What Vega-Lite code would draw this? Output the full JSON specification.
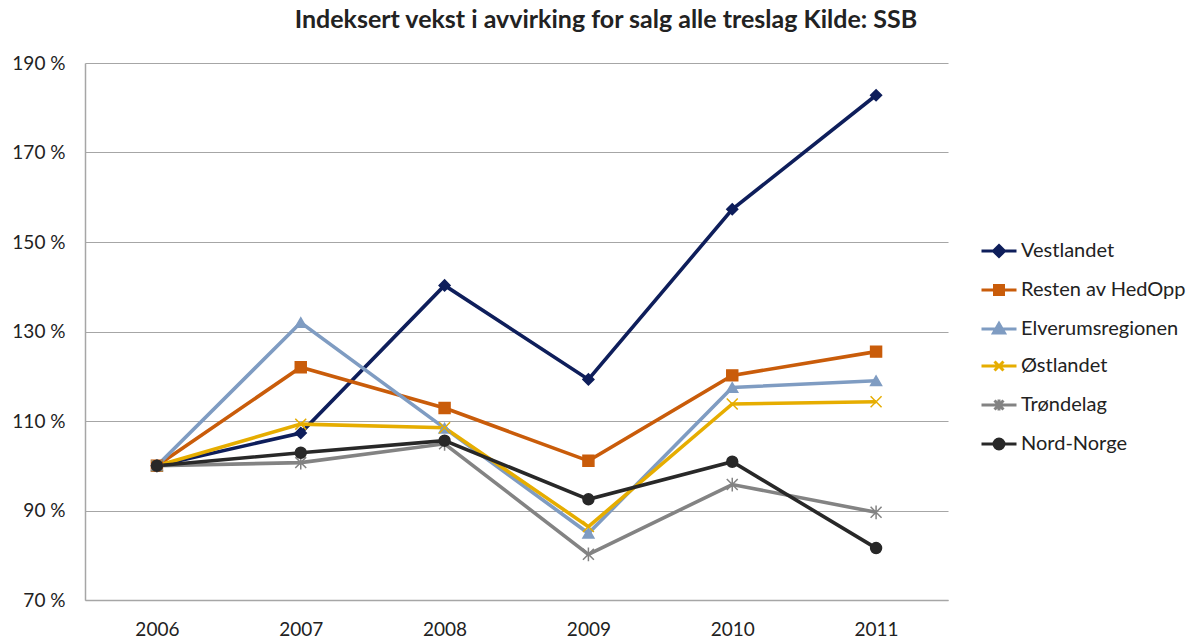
{
  "$schema": "https://vega.github.io/schema/vega-lite/v6.json",
  "autosize": {"type": "none"},
  "padding": {"left": 85, "top": 63, "right": 248, "bottom": 40},
  "width": 863,
  "height": 537,
  "background": "white",
  "config": {
    "view": {"stroke": null},
    "font": "Lato",
    "axis": {"labelFont": "Lato", "labelFontSize": 19, "labelColor": "#222222"},
    "legend": {"labelFont": "Lato", "labelFontSize": 20, "labelColor": "#222222", "labelLimit": 300}
  },
  "title": {
    "text": "Indeksert vekst i avvirking for salg alle treslag Kilde: SSB",
    "font": "Lato",
    "fontSize": 25,
    "fontWeight": "bold",
    "color": "#222222",
    "anchor": "middle",
    "frame": "bounds",
    "offset": 21,
    "dx": 7
  },
  "data": {
    "values": [
      {"year": "2006", "series": "Vestlandet", "value": 100},
      {"year": "2007", "series": "Vestlandet", "value": 107.3},
      {"year": "2008", "series": "Vestlandet", "value": 140.3},
      {"year": "2009", "series": "Vestlandet", "value": 119.3},
      {"year": "2010", "series": "Vestlandet", "value": 157.3},
      {"year": "2011", "series": "Vestlandet", "value": 182.8},
      {"year": "2006", "series": "Resten av HedOpp", "value": 100},
      {"year": "2007", "series": "Resten av HedOpp", "value": 122},
      {"year": "2008", "series": "Resten av HedOpp", "value": 112.9},
      {"year": "2009", "series": "Resten av HedOpp", "value": 101.1},
      {"year": "2010", "series": "Resten av HedOpp", "value": 120.2},
      {"year": "2011", "series": "Resten av HedOpp", "value": 125.5},
      {"year": "2006", "series": "Elverumsregionen", "value": 100},
      {"year": "2007", "series": "Elverumsregionen", "value": 132},
      {"year": "2008", "series": "Elverumsregionen", "value": 108.4},
      {"year": "2009", "series": "Elverumsregionen", "value": 84.9},
      {"year": "2010", "series": "Elverumsregionen", "value": 117.5},
      {"year": "2011", "series": "Elverumsregionen", "value": 119},
      {"year": "2006", "series": "Østlandet", "value": 100},
      {"year": "2007", "series": "Østlandet", "value": 109.3},
      {"year": "2008", "series": "Østlandet", "value": 108.5},
      {"year": "2009", "series": "Østlandet", "value": 86.4},
      {"year": "2010", "series": "Østlandet", "value": 113.8},
      {"year": "2011", "series": "Østlandet", "value": 114.3},
      {"year": "2006", "series": "Trøndelag", "value": 100},
      {"year": "2007", "series": "Trøndelag", "value": 100.7},
      {"year": "2008", "series": "Trøndelag", "value": 104.9},
      {"year": "2009", "series": "Trøndelag", "value": 80.2},
      {"year": "2010", "series": "Trøndelag", "value": 95.8},
      {"year": "2011", "series": "Trøndelag", "value": 89.6},
      {"year": "2006", "series": "Nord-Norge", "value": 100},
      {"year": "2007", "series": "Nord-Norge", "value": 102.9},
      {"year": "2008", "series": "Nord-Norge", "value": 105.6},
      {"year": "2009", "series": "Nord-Norge", "value": 92.5},
      {"year": "2010", "series": "Nord-Norge", "value": 100.9},
      {"year": "2011", "series": "Nord-Norge", "value": 81.6}
    ]
  },
  "encoding": {
    "x": {
      "field": "year",
      "type": "ordinal",
      "scale": {"type": "point", "padding": 0.5},
      "axis": {"title": null, "labelAngle": 0, "ticks": false, "domainColor": "#A6A6A6", "domainWidth": 1.5, "labelPadding": 20, "grid": false}
    },
    "y": {
      "field": "value",
      "type": "quantitative",
      "scale": {"domain": [70, 190], "nice": false, "zero": false},
      "axis": {"title": null, "values": [70, 90, 110, 130, 150, 170, 190], "labelExpr": "datum.value + ' %'", "ticks": false, "domainColor": "#A6A6A6", "domainWidth": 1.5, "gridColor": "#A6A6A6", "gridWidth": 1.2, "labelPadding": 20}
    }
  },
  "layer": [
    {
      "mark": {"type": "point", "filled": true, "opacity": 0, "strokeWidth": 3, "size": 100},
      "encoding": {
        "color": {
          "field": "series", "type": "nominal", "title": null,
          "scale": {
            "domain": ["Vestlandet", "Resten av HedOpp", "Elverumsregionen", "Østlandet", "Trøndelag", "Nord-Norge"],
            "range": ["#0E1E5B", "#C95C0A", "#7F9CC2", "#E6AD00", "#838383", "#282828"]
          },
          "legend": {"orient": "none", "legendX": 904, "legendY": 178, "padding": 0, "labelOffset": 12, "rowPadding": 16, "symbolSize": 100, "symbolOpacity": 1, "symbolStrokeWidth": 3, "labelLimit": 300}
        },
        "stroke": {
          "field": "series", "type": "nominal", "title": null,
          "scale": {
            "domain": ["Vestlandet", "Resten av HedOpp", "Elverumsregionen", "Østlandet", "Trøndelag", "Nord-Norge"],
            "range": ["#0E1E5B", "#C95C0A", "#7F9CC2", "#E6AD00", "#838383", "#282828"]
          },
          "legend": {"orient": "none", "legendX": 904, "legendY": 178, "padding": 0, "labelOffset": 12, "rowPadding": 16, "symbolSize": 100, "symbolOpacity": 1, "symbolStrokeWidth": 3, "labelLimit": 300}
        },
        "shape": {
          "field": "series", "type": "nominal", "title": null,
          "scale": {
            "domain": ["Vestlandet", "Resten av HedOpp", "Elverumsregionen", "Østlandet", "Trøndelag", "Nord-Norge"],
            "range": [
              "M-3.5,0L3.5,0M0,-1.1L1.1,0L0,1.1L-1.1,0Z",
              "M-3.5,0L3.5,0M-0.9,-0.9L0.9,-0.9L0.9,0.9L-0.9,0.9Z",
              "M-3.5,0L3.5,0M0,-1.1L1.1,0.8L-1.1,0.8Z",
              "M-3.5,0L3.5,0M-0.9,-0.9L0.9,0.9M-0.9,0.9L0.9,-0.9",
              "M-3.5,0L3.5,0M-0.9,-0.9L0.9,0.9M-0.9,0.9L0.9,-0.9M0,-1.1L0,1.1",
              "M-3.5,0L3.5,0M-1,0A1,1,0,1,1,1,0A1,1,0,1,1,-1,0Z"
            ]
          },
          "legend": {"orient": "none", "legendX": 904, "legendY": 178, "padding": 0, "labelOffset": 12, "rowPadding": 16, "symbolSize": 100, "symbolOpacity": 1, "symbolStrokeWidth": 3, "labelLimit": 300}
        }
      }
    },
    {
      "mark": {"type": "line", "strokeWidth": 3.6},
      "encoding": {
        "color": {"field": "series", "type": "nominal", "legend": null},
        "detail": {"field": "series"}
      }
    },
    {
      "mark": {"type": "point", "filled": true, "opacity": 1, "strokeWidth": 1.5, "size": 120},
      "encoding": {
        "color": {"field": "series", "type": "nominal", "legend": null},
        "stroke": {"field": "series", "type": "nominal", "legend": null},
        "shape": {
          "condition": [
            {"test": "datum.series === 'Vestlandet'", "value": "diamond"},
            {"test": "datum.series === 'Resten av HedOpp'", "value": "square"},
            {"test": "datum.series === 'Elverumsregionen'", "value": "triangle-up"},
            {"test": "datum.series === 'Østlandet'", "value": "M-1,-1L1,1M-1,1L1,-1"},
            {"test": "datum.series === 'Trøndelag'", "value": "M-1,-1L1,1M-1,1L1,-1M0,-1.25L0,1.25"}
          ],
          "value": "circle"
        }
      }
    }
  ]
}
